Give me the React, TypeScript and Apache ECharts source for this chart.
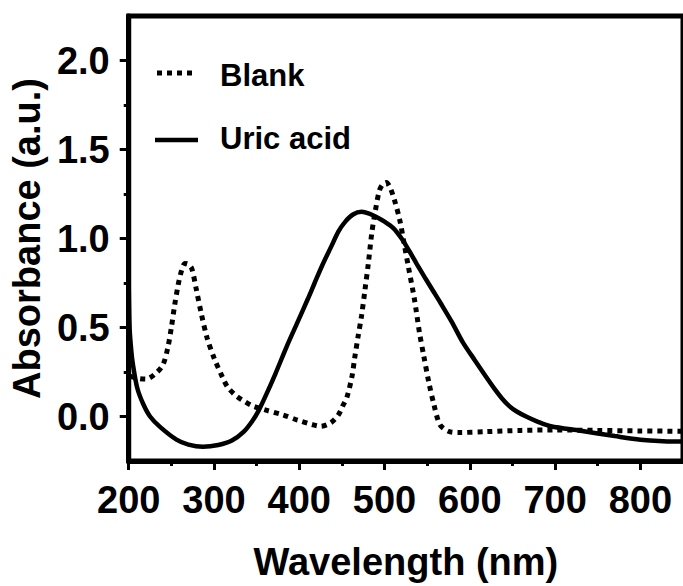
import React, { useEffect, useRef } from "react";
import * as echarts from "echarts";

const blankWavelength = [
  202, 210, 220, 230, 240, 246, 250, 254, 258, 262, 266, 270, 274, 279, 285, 292, 300, 310, 316, 325,
  333, 345, 360, 380, 398, 415, 425, 437, 446, 451, 456, 462, 465, 469, 473, 477, 481, 485, 489, 494,
  498, 502, 507, 512, 518, 523, 528, 535, 541, 546, 552, 558, 565, 575, 587, 620, 660, 700, 750, 800, 850,
];
const blankAbsorbance = [
  0.225, 0.215, 0.21, 0.235, 0.29, 0.39, 0.5, 0.63, 0.74, 0.82, 0.86, 0.855, 0.83, 0.72, 0.58, 0.44, 0.33, 0.22, 0.165, 0.12,
  0.093, 0.06, 0.037, 0.01, -0.02, -0.045, -0.055, -0.035, 0.01, 0.06, 0.11, 0.23, 0.33, 0.45, 0.565, 0.71, 0.86, 1.03, 1.15, 1.27,
  1.305, 1.315, 1.28, 1.21, 1.1, 0.97, 0.84, 0.66, 0.47, 0.34, 0.19, 0.065, -0.046, -0.083, -0.09, -0.085, -0.078, -0.076, -0.078, -0.081, -0.083,
];

const uricWavelength = [
  200, 201, 203, 205, 210, 217, 225, 237, 256, 270, 287, 305, 321, 335, 345, 352, 360, 372, 385, 398,
  410, 418, 427, 437, 446, 454, 463, 473, 482, 491, 500, 510, 520, 529, 538, 548, 557, 566, 579, 592,
  606, 618, 629, 638, 646, 655, 666, 680, 695, 730, 770, 800, 840, 850,
];
const uricAbsorbance = [
  0.75, 0.5, 0.37, 0.29, 0.16, 0.07, 0.0, -0.06, -0.13, -0.158, -0.17, -0.16, -0.135, -0.085, -0.025, 0.03, 0.11, 0.24, 0.39, 0.53,
  0.66, 0.75, 0.85, 0.95, 1.04, 1.095, 1.135, 1.15, 1.14, 1.12, 1.095, 1.06, 1.0, 0.93, 0.855, 0.775, 0.705, 0.635, 0.53, 0.415,
  0.315, 0.23, 0.155, 0.1, 0.06, 0.028, 0.0, -0.03, -0.055, -0.08, -0.11, -0.13, -0.14, -0.14,
];

const xMajorTicks = [200, 300, 400, 500, 600, 700, 800];
const xMinorTicks = [250, 350, 450, 550, 650, 750];
const yMajorTicks = [0, 0.5, 1.0, 1.5, 2.0];
const yMinorTicks = [0.25, 0.75, 1.25, 1.75];

const seriesNames = ["Blank", "Uric acid"];
const xTitle = "Wavelength (nm)";
const yTitle = "Absorbance (a.u.)";

const FONT = "'Liberation Sans', Arial, Helvetica, sans-serif";

export default function App() {
  const ref = useRef<HTMLDivElement>(null);
  useEffect(() => {
    document.body.style.margin = "0";
    if (!ref.current) return;
    const chart = echarts.init(ref.current, undefined, { renderer: "svg" });
    const labelStyle = { color: "#000", fontFamily: FONT, fontWeight: "bold" as const, fontSize: 38 };
    const legendText = { fill: "#000", fontFamily: FONT, fontWeight: "bold", fontSize: 31 };
    chart.setOption({
      animation: false,
      backgroundColor: "#fff",
      grid: {
        left: 127,
        top: 16,
        right: -7,
        bottom: 118,
        show: true,
        borderColor: "#000",
        borderWidth: 5,
        backgroundColor: "transparent",
      },
      graphic: [
        {
          type: "line",
          shape: { x1: 157, y1: 73, x2: 197, y2: 73 },
          style: { stroke: "#000", lineWidth: 5, lineDash: [5, 5], lineCap: "butt" },
        },
        {
          type: "text",
          x: 220,
          y: 75,
          style: { ...legendText, text: seriesNames[0], verticalAlign: "middle" },
        },
        {
          type: "line",
          shape: { x1: 155, y1: 140, x2: 198, y2: 140 },
          style: { stroke: "#000", lineWidth: 4.5 },
        },
        {
          type: "text",
          x: 220,
          y: 138,
          style: { ...legendText, text: seriesNames[1], verticalAlign: "middle" },
        },
      ],
      xAxis: [
        {
          type: "value",
          min: 200,
          max: 850,
          interval: 100,
          position: "bottom",
          name: xTitle,
          nameLocation: "middle",
          nameGap: 82,
          nameTextStyle: { ...labelStyle, fontSize: 38 },
          axisLine: { show: true, onZero: false, lineStyle: { color: "#000", width: 5 } },
          axisTick: { show: true, customValues: xMajorTicks, length: 9, lineStyle: { color: "#000", width: 3 } },
          axisLabel: { ...labelStyle, customValues: xMajorTicks, margin: 20 },
          splitLine: { show: false },
        },
        {
          type: "value",
          min: 200,
          max: 850,
          interval: 50,
          position: "bottom",
          axisLine: { show: false, onZero: false },
          axisTick: { show: true, customValues: xMinorTicks, length: 5, lineStyle: { color: "#000", width: 3 } },
          axisLabel: { show: false },
          splitLine: { show: false },
        },
      ],
      yAxis: [
        {
          type: "value",
          min: -0.25,
          max: 2.25,
          interval: 0.25,
          position: "left",
          name: yTitle,
          nameLocation: "middle",
          nameGap: 80,
          nameTextStyle: { ...labelStyle, fontSize: 38 },
          axisLine: { show: true, onZero: false, lineStyle: { color: "#000", width: 5 } },
          axisTick: { show: true, customValues: yMajorTicks, length: 9, lineStyle: { color: "#000", width: 3 } },
          axisLabel: {
            ...labelStyle,
            customValues: yMajorTicks,
            margin: 19,
            formatter: (v: number) => v.toFixed(1),
          },
          splitLine: { show: false },
        },
        {
          type: "value",
          min: -0.25,
          max: 2.25,
          interval: 0.25,
          position: "left",
          axisLine: { show: false, onZero: false },
          axisTick: { show: true, customValues: yMinorTicks, length: 5, lineStyle: { color: "#000", width: 3 } },
          axisLabel: { show: false },
          splitLine: { show: false },
        },
      ],
      series: [
        {
          name: seriesNames[0],
          type: "line",
          data: blankWavelength.map((w, i) => [w, blankAbsorbance[i]]),
          showSymbol: false,
          symbol: "none",
          smooth: 0.3,
          lineStyle: { color: "#000", width: 5, type: [5, 5], cap: "butt" },
          itemStyle: { color: "#000" },
          z: 3,
        },
        {
          name: seriesNames[1],
          type: "line",
          data: uricWavelength.map((w, i) => [w, uricAbsorbance[i]]),
          showSymbol: false,
          symbol: "none",
          smooth: 0.3,
          lineStyle: { color: "#000", width: 4.5 },
          itemStyle: { color: "#000" },
          z: 3,
        },
      ],
    });
    return () => chart.dispose();
  }, []);
  return <div ref={ref} style={{ width: 683, height: 586 }} />;
}
